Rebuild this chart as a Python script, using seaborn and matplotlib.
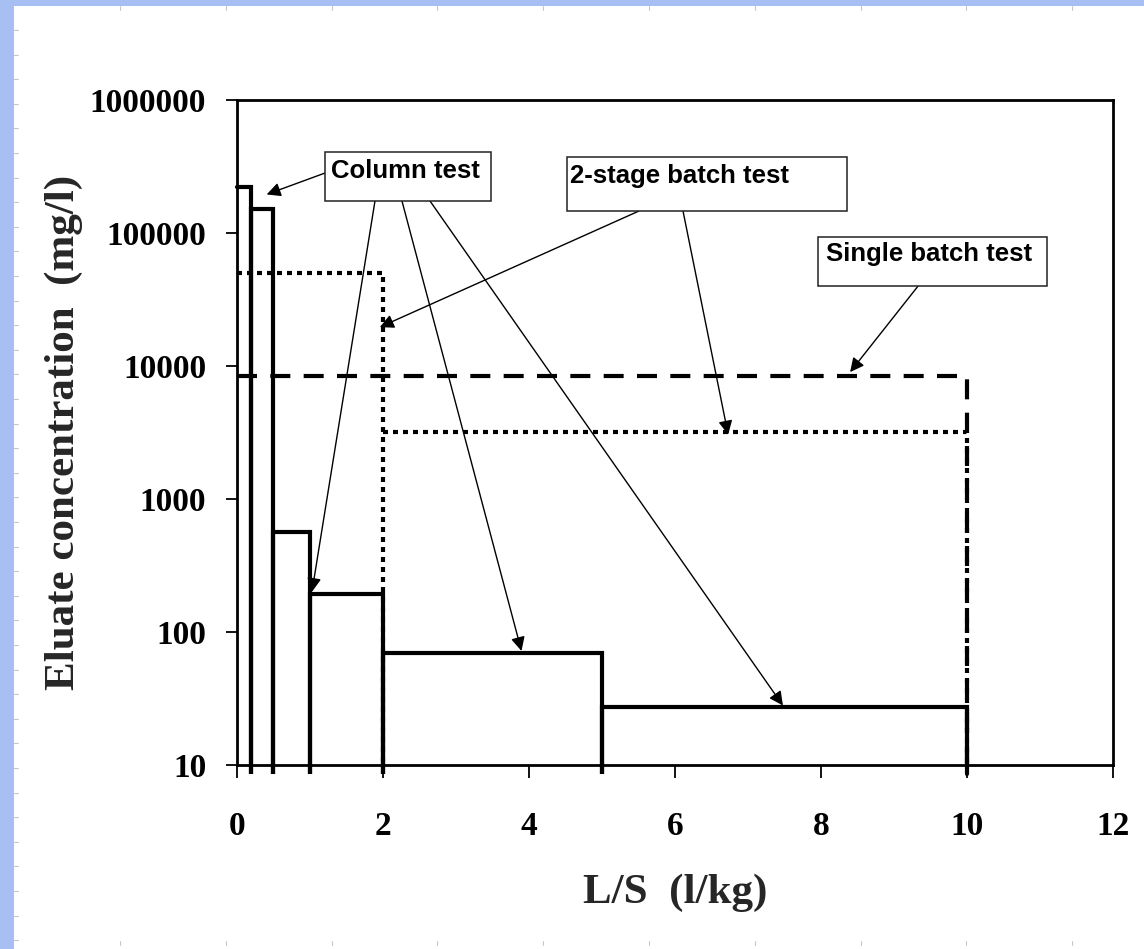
import numpy as np
import pandas as pd
import matplotlib
matplotlib.use("Agg")
import matplotlib.pyplot as plt
from matplotlib.patches import Rectangle
from matplotlib.lines import Line2D
import seaborn as sns

# --- data ------------------------------------------------------------------
column_edges = [0, 0.2, 0.5, 1, 2, 5, 10]
column_conc = [222000, 151000, 565, 193, 69.5, 27.3]

two_stage_edges = [0, 2, 10]
two_stage_conc = [50000, 3190]

single_edges = [0, 10]
single_conc = [8400]

x_ticks = [0, 2, 4, 6, 8, 10, 12]
y_ticks = [10, 100, 1000, 10000, 100000, 1000000]
y_tick_labels = ["10", "100", "1000", "10000", "100000", "1000000"]

# arrow tips (data coords) for each callout
column_arrow_x = [0.41, 1.03, 3.9, 7.48]
column_arrow_y = [195000, 200, 72, 28]
two_stage_arrow_x = [1.96, 6.73]
two_stage_arrow_y = [19600, 3050]
single_arrow_x = [8.40]
single_arrow_y = [9000]

Y_MIN, Y_MAX = 10, 1000000
X_MIN, X_MAX = 0, 12


def step_segments(edges, conc, floor, each_bin=True):
    """Build a long table of path points for a stepped histogram."""
    rows = []
    if each_bin:
        # continuous path, dropping to the floor at each bin edge
        for i, v in enumerate(conc):
            rows.append((edges[i], v, 0))
            rows.append((edges[i + 1], v, 0))
            rows.append((edges[i + 1], floor, 0))
    else:
        for i, v in enumerate(conc):
            rows.append((edges[i], v, i))
            rows.append((edges[i + 1], v, i))
            rows.append((edges[i + 1], floor, i))
    return pd.DataFrame(rows, columns=["ls", "conc", "seg"])


sns.set_theme(style="ticks")
plt.rcParams["font.family"] = ["Liberation Serif", "DejaVu Serif"]

fig = plt.figure(figsize=(11.44, 9.49), dpi=100)
fig.patch.set_facecolor("white")

# slide-like frame: blue strips + faint ruler marks
fig.add_artist(Rectangle((0, 0), 14 / 1144, 1, transform=fig.transFigure,
                         facecolor="#a8bff4", edgecolor="none", zorder=0))
fig.add_artist(Rectangle((0, 1 - 6 / 949), 1, 6 / 949, transform=fig.transFigure,
                         facecolor="#a8bff4", edgecolor="none", zorder=0))
for k in range(38):
    yy = 1 - (30 + 24.6 * k) / 949
    fig.add_artist(Line2D([14 / 1144, 18 / 1144], [yy, yy], transform=fig.transFigure,
                          color="#c8c8c8", lw=0.8))
for k in range(11):
    xx = (120 + 105.8 * k) / 1144
    fig.add_artist(Line2D([xx, xx], [1 - 6 / 949, 1 - 10 / 949], transform=fig.transFigure,
                          color="#c8c8c8", lw=0.8))
    fig.add_artist(Line2D([xx, xx], [4 / 949, 8 / 949], transform=fig.transFigure,
                          color="#c8c8c8", lw=0.8))

ax = fig.add_axes([236.7 / 1144, 1 - 765 / 949, 876.3 / 1144, 665 / 949])
ax.set_yscale("log")
ax.set_xlim(X_MIN, X_MAX)
ax.set_ylim(Y_MIN, Y_MAX)

floor_below = Y_MIN / 10 ** 0.07

# single batch test (dashed)
df_single = step_segments(single_edges, single_conc, Y_MIN, each_bin=False)
sns.lineplot(data=df_single, x="ls", y="conc", units="seg", estimator=None,
             sort=False, color="black", lw=3, linestyle=(0, (4.8, 3.2)),
             dash_capstyle="butt", ax=ax, zorder=3, legend=False)

# 2-stage batch test (dotted)
df_two = step_segments(two_stage_edges, two_stage_conc, Y_MIN, each_bin=False)
sns.lineplot(data=df_two, x="ls", y="conc", units="seg", estimator=None,
             sort=False, color="black", lw=3, linestyle=(0, (1.2, 1.2)),
             dash_capstyle="butt", ax=ax, zorder=3, legend=False)

# column test (solid)
df_col = step_segments(column_edges, column_conc, floor_below)
sns.lineplot(data=df_col, x="ls", y="conc", units="seg", estimator=None,
             sort=False, color="black", lw=3, ax=ax, zorder=4, legend=False,
             clip_on=False, solid_joinstyle="miter")

# axes styling
for s in ax.spines.values():
    s.set_visible(True)
    s.set_linewidth(2)
    s.set_color("black")
ax.set_xticks(x_ticks)
ax.set_xticklabels([str(t) for t in x_ticks])
ax.set_yticks(y_ticks)
ax.set_yticklabels(y_tick_labels)
ax.minorticks_off()
ax.tick_params(axis="x", direction="out", length=9, width=1.3, pad=24,
               labelsize=24, colors="black")
ax.tick_params(axis="y", direction="out", length=8, width=1.3, pad=14,
               labelsize=24, colors="black")
for lab in ax.get_xticklabels() + ax.get_yticklabels():
    lab.set_fontweight("bold")

ax.set_xlabel("L/S  (l/kg)", fontsize=31, fontweight="bold")
ax.set_ylabel("Eluate concentration  (mg/l)", fontsize=31, fontweight="bold")
ax.xaxis.set_label_coords(0.5, -(893 - 765) / 665)
ax.xaxis.label.set_va("center")
ax.yaxis.set_label_coords((64 - 236.7) / 876.3, 0.5)
ax.yaxis.label.set_va("center")

# callout boxes (axes fraction)
box_font = dict(family=["Liberation Sans", "DejaVu Sans"], fontsize=18.5,
                fontweight="bold", color="black")
boxes = [
    ("Column test", (0.1008, 0.8481, 0.1890, 0.0737), (0.1078, 0.8932)),
    ("2-stage batch test", (0.3770, 0.8331, 0.3196, 0.0812), (0.3804, 0.8857)),
    ("Single batch test", (0.6634, 0.7203, 0.2613, 0.0737), (0.6725, 0.7684)),
]
for text, (bx, by, bw, bh), (tx, ty) in boxes:
    ax.add_patch(Rectangle((bx, by), bw, bh, transform=ax.transAxes,
                           facecolor="white", edgecolor="#222222", lw=1.1,
                           zorder=6, clip_on=False))
    ax.text(tx, ty, text, transform=ax.transAxes, ha="left", va="center",
            zorder=7, **box_font)

arrow_kw = dict(arrowstyle="-|>,head_length=0.6,head_width=0.3",
                color="black", lw=1.0, mutation_scale=14,
                shrinkA=0, shrinkB=0)

column_tails = [(0.1008, 0.8902), (0.1578, 0.8481), (0.1886, 0.8481), (0.2206, 0.8481)]
for (tx, ty), x, y in zip(column_tails, column_arrow_x, column_arrow_y):
    ax.annotate("", xy=(x, y), xycoords="data", xytext=(tx, ty),
                textcoords="axes fraction", arrowprops=arrow_kw, zorder=5)

two_stage_tails = [(0.4591, 0.8331), (0.5093, 0.8331)]
for (tx, ty), x, y in zip(two_stage_tails, two_stage_arrow_x, two_stage_arrow_y):
    ax.annotate("", xy=(x, y), xycoords="data", xytext=(tx, ty),
                textcoords="axes fraction", arrowprops=arrow_kw, zorder=5)

single_tails = [(0.7776, 0.7203)]
for (tx, ty), x, y in zip(single_tails, single_arrow_x, single_arrow_y):
    ax.annotate("", xy=(x, y), xycoords="data", xytext=(tx, ty),
                textcoords="axes fraction", arrowprops=arrow_kw, zorder=5)

fig.savefig("out.png", dpi=100)
